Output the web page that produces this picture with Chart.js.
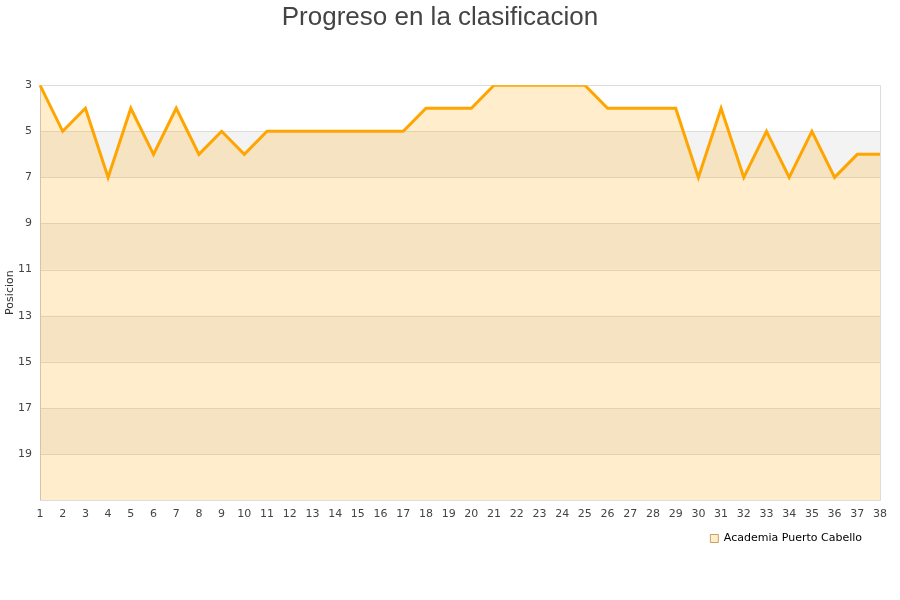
<!DOCTYPE html>
<html>
<head>
<meta charset="utf-8">
<script src="https://cdn.jsdelivr.net/npm/chart.js@4/dist/chart.umd.min.js"></script>
<style>
html,body{margin:0;padding:0;background:#fff;}
#wrap{width:900px;height:600px;position:relative;}
</style>
</head>
<body>
<div id="wrap"><canvas id="c" width="900" height="600"></canvas></div>
<script>
const jornadas = ['1','2','3','4','5','6','7','8','9','10','11','12','13','14','15','16','17','18','19','20','21','22','23','24','25','26','27','28','29','30','31','32','33','34','35','36','37','38'];
const posiciones = [3,5,4,7,4,6,4,6,5,6,5,5,5,5,5,5,5,4,4,4,3,3,3,3,3,4,4,4,4,7,4,7,5,7,5,7,6,6];
const equipo = 'Academia Puerto Cabello';
const titulo = 'Progreso en la clasificacion';
const ejeY = 'Posicion';
const yMin = 3, yMax = 21;

const bandPlugin = {
  id: 'bands',
  afterLayout(chart) {
    if (chart.legend) { chart.legend.left -= 9; chart.legend.right -= 9; }
  },
  beforeDatasetsDraw(chart) {
    const {ctx, chartArea: a, scales: {y}} = chart;
    ctx.save();
    ctx.fillStyle = '#f3f3f3';
    for (let v = 5; v < yMax; v += 4) {
      const t = y.getPixelForValue(v), b = y.getPixelForValue(Math.min(v + 2, yMax));
      ctx.fillRect(a.left, t, a.right - a.left, b - t);
    }
    ctx.strokeStyle = '#dddddd';
    ctx.lineWidth = 1;
    for (let v = 3; v <= 19; v += 2) {
      const p = Math.round(y.getPixelForValue(v)) + 0.5;
      ctx.beginPath(); ctx.moveTo(a.left, p); ctx.lineTo(a.right, p); ctx.stroke();
    }
    ctx.beginPath();
    ctx.moveTo(a.left, Math.round(a.top) + 0.5);
    ctx.lineTo(Math.round(a.right) + 0.5, Math.round(a.top) + 0.5);
    ctx.lineTo(Math.round(a.right) + 0.5, Math.round(a.bottom) + 0.5);
    ctx.lineTo(a.left, Math.round(a.bottom) + 0.5);
    ctx.stroke();
    ctx.strokeStyle = '#cccccc';
    ctx.beginPath();
    ctx.moveTo(Math.round(a.left) + 0.5, a.top);
    ctx.lineTo(Math.round(a.left) + 0.5, a.bottom);
    ctx.stroke();
    ctx.restore();
  }
};

new Chart(document.getElementById('c'), {
  type: 'line',
  data: {
    labels: jornadas,
    datasets: [{
      label: equipo,
      data: posiciones,
      borderColor: '#FFA500',
      backgroundColor: 'rgba(255,165,0,0.2)',
      borderWidth: 3,
      pointRadius: 0,
      pointHoverRadius: 0,
      tension: 0,
      fill: {value: yMax}
    }]
  },
  options: {
    responsive: false,
    animation: false,
    devicePixelRatio: 1,
    layout: {padding: {left: 0, right: 20, top: 0, bottom: 46}},
    plugins: {
      title: {
        display: true,
        text: titulo,
        color: '#444444',
        font: {family: '"Liberation Sans", Arial, sans-serif', size: 26, weight: 'normal'},
        padding: {top: 2, bottom: 52}
      },
      legend: {
        position: 'bottom',
        align: 'end',
        labels: {
          color: '#000000',
          font: {family: '"DejaVu Sans", sans-serif', size: 11},
          boxWidth: 8,
          boxHeight: 8,
          padding: 9,
          generateLabels(chart) {
            return [{text: equipo, fillStyle: 'rgba(255,165,0,0.2)', strokeStyle: '#c8a060', lineWidth: 1, datasetIndex: 0, fontColor: '#000'}];
          }
        }
      },
      tooltip: {enabled: false}
    },
    scales: {
      x: {
        offset: false,
        grid: {display: false, drawTicks: false},
        border: {display: false},
        ticks: {
          color: '#444444',
          font: {family: '"DejaVu Sans", sans-serif', size: 11},
          autoSkip: false,
          maxRotation: 0,
          minRotation: 0,
          padding: 8
        },
        afterFit(s) { s.height = 24; }
      },
      y: {
        reverse: true,
        min: yMin,
        max: yMax,
        grid: {display: false, drawTicks: false},
        border: {display: false},
        ticks: {
          stepSize: 2,
          color: '#444444',
          font: {family: '"DejaVu Sans", sans-serif', size: 11},
          padding: 8,
          callback(v) { return v === yMax ? '' : v; }
        },
        title: {
          display: true,
          text: ejeY,
          color: '#333333',
          font: {family: '"DejaVu Sans", sans-serif', size: 11},
          padding: {top: 4, bottom: 0}
        },
        afterFit(s) { s.width = 40; }
      }
    }
  },
  plugins: [bandPlugin]
});
</script>
</body>
</html>
